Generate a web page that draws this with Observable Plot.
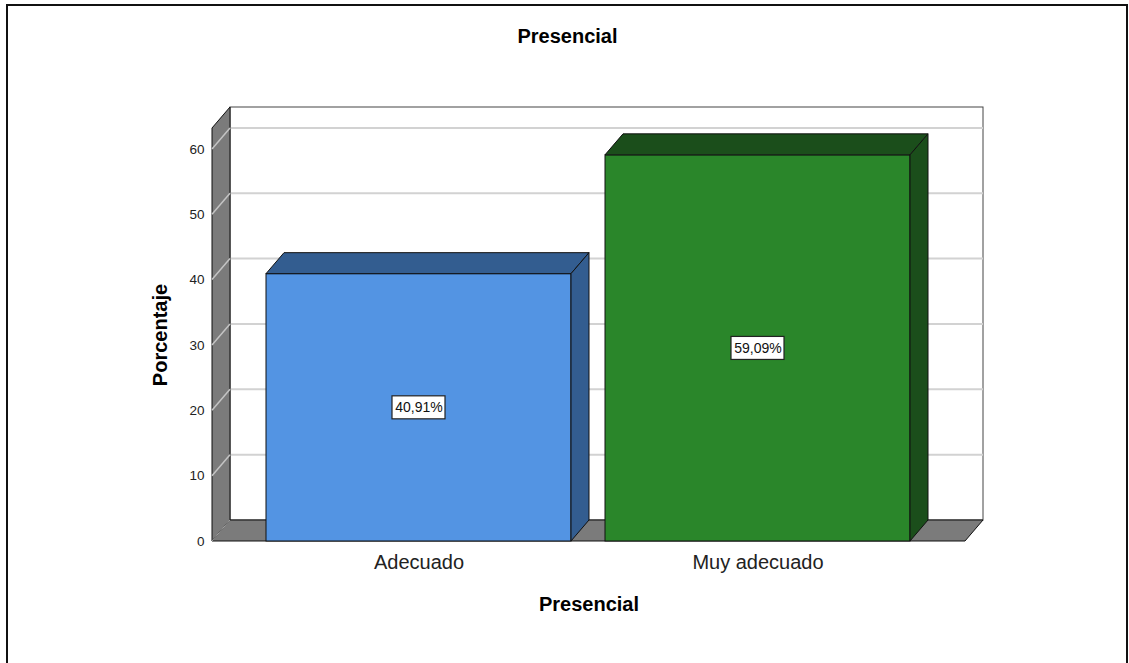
<!DOCTYPE html>
<html><head><meta charset="utf-8">
<script src="https://cdn.jsdelivr.net/npm/d3@7"></script>
<script src="https://cdn.jsdelivr.net/npm/@observablehq/plot@0.6"></script>
<style>html,body{margin:0;padding:0;background:#fff;overflow:hidden} svg{display:block}</style>
</head><body><div id="chart"></div>
<script>
const title = "Presencial";
const xTitle = "Presencial";
const yTitle = "Porcentaje";
const categories = ["Adecuado", "Muy adecuado"];
const percentages = [40.91, 59.09];
const valueLabels = ["40,91%", "59,09%"];
const yTicks = [0, 10, 20, 30, 40, 50, 60];
const frontColors = ["#5394e3", "#2a862a"];
const sideColors = ["#335d90", "#1b4e1b"];

const data = categories.map((c, i) => ({category: c, value: percentages[i], label: valueLabels[i], front: frontColors[i], side: sideColors[i]}));

const DX = 18, DY = 21; // 3D depth offset (px)
const NS = "http://www.w3.org/2000/svg";
function el(tag, attrs, parent) {
  const e = document.createElementNS(NS, tag);
  for (const k in attrs) e.setAttribute(k, attrs[k]);
  if (parent) parent.appendChild(e);
  return e;
}
function bw(x) { return typeof x.bandwidth === "function" ? x.bandwidth() : x.bandwidth; }
function pts(a) { return a.map(p => p.join(",")).join(" "); }

function walls(index, scales, values, dim) {
  const g = el("g", {});
  const y = scales.y;
  const x0 = dim.marginLeft, x1 = dim.width - dim.marginRight;
  const yb = y(0), yt = dim.marginTop;
  el("rect", {x: x0 + DX, y: yt - DY, width: x1 - x0, height: yb - yt, fill: "#fff", stroke: "#444", "stroke-width": 1}, g);
  for (const v of yTicks) {
    if (v === 0) continue;
    el("line", {x1: x0 + DX, x2: x1 + DX, y1: y(v) - DY, y2: y(v) - DY, stroke: "#d2d2d2", "stroke-width": 2}, g);
  }
  el("polygon", {points: pts([[x0, yb], [x0, yt], [x0 + DX, yt - DY], [x0 + DX, yb - DY]]), fill: "#7b7b7b", stroke: "#111", "stroke-width": 1}, g);
  for (const v of yTicks) {
    if (v === 0) continue;
    el("line", {x1: x0, x2: x0 + DX, y1: y(v), y2: y(v) - DY, stroke: "#c4c4c4", "stroke-width": 1.5}, g);
  }
  el("polygon", {points: pts([[x0, yb], [x1, yb], [x1 + DX, yb - DY], [x0 + DX, yb - DY]]), fill: "#7b7b7b", stroke: "#111", "stroke-width": 1}, g);
  el("line", {x1: x0, x2: x0 + DX, y1: yb, y2: yb - DY, stroke: "#a8a8a8", "stroke-width": 1}, g);
  return g;
}

function bars3d(index, scales, values, dim) {
  const g = el("g", {});
  const x = scales.x, y = scales.y, w = bw(x);
  for (const d of data) {
    const xa = x(d.category), xb = xa + w, yt = y(d.value), yb = y(0);
    el("polygon", {points: pts([[xa, yt], [xb, yt], [xb + DX, yt - DY], [xa + DX, yt - DY]]), fill: d.side, stroke: "#111", "stroke-width": 1}, g);
    el("polygon", {points: pts([[xb, yt], [xb + DX, yt - DY], [xb + DX, yb - DY], [xb, yb]]), fill: d.side, stroke: "#111", "stroke-width": 1}, g);
  }
  return g;
}

function labelBoxes(index, scales, values, dim) {
  const g = el("g", {});
  const x = scales.x, y = scales.y, w = bw(x);
  for (const d of data) {
    const cx = x(d.category) + w / 2, cy = y(d.value / 2);
    el("rect", {x: cx - 26.5, y: cy - 11.5, width: 53, height: 23, fill: "#fff", stroke: "#222", "stroke-width": 1.2}, g);
  }
  return g;
}

function outerFrame(index, scales, values, dim) {
  return el("rect", {x: 7, y: 5, width: dim.width - 9, height: dim.height + 20, fill: "none", stroke: "#111", "stroke-width": 2});
}

const chart = Plot.plot({
  width: 1129,
  height: 663,
  marginLeft: 212,
  marginRight: 164,
  marginTop: 128,
  marginBottom: 122,
  style: {fontFamily: "'Liberation Sans', Arial, sans-serif", background: "#fff"},
  x: {type: "band", domain: categories, paddingInner: 0.1, paddingOuter: 0.16, axis: null},
  y: {domain: [0, 63.2], axis: null},
  marks: [
    walls,
    Plot.barY(data, {x: "category", y: "value", fill: "front", stroke: "#111", strokeWidth: 1}),
    bars3d,
    labelBoxes,
    Plot.text(data, {x: "category", y: d => d.value / 2, text: "label", fontSize: 14, fill: "#111", lineAnchor: "middle"}),
    Plot.text(yTicks, {y: d => d, text: d => String(d), frameAnchor: "left", textAnchor: "end", lineAnchor: "middle", dx: -8, fontSize: 13.5, fill: "#222"}),
    Plot.text(categories, {x: d => d, text: d => d, frameAnchor: "bottom", lineAnchor: "middle", dy: 21, fontSize: 20, fill: "#222"}),
    Plot.text([xTitle], {text: d => d, frameAnchor: "bottom", lineAnchor: "middle", dy: 63, fontSize: 20, fontWeight: "bold", fill: "#000"}),
    Plot.text([yTitle], {text: d => d, frameAnchor: "left", textAnchor: "middle", lineAnchor: "middle", dx: -52, rotate: -90, fontSize: 20, fontWeight: "bold", fill: "#000"}),
    Plot.text([title], {text: d => d, frameAnchor: "top", lineAnchor: "middle", dy: -92, dx: -21.5, fontSize: 20, fontWeight: "bold", fill: "#000"}),
    outerFrame
  ]
});
document.getElementById("chart").appendChild(chart);
</script>
</body></html>
